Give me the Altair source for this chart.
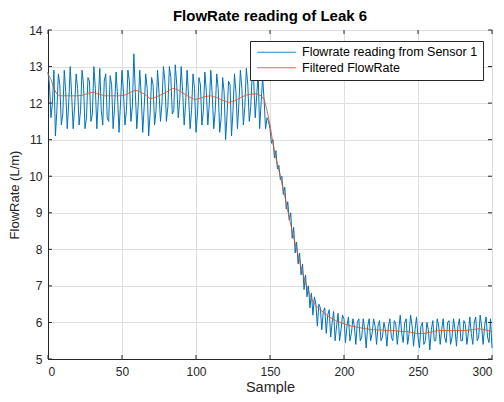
import altair as alt
import pandas as pd

# ---- data ----
raw_values = [
    12.85, 12.5, 11.6, 12.0, 12.9, 11.1, 11.8, 12.8, 12.5, 11.4,
    11.7, 12.9, 12.3, 11.3, 12.0, 13.0, 12.2, 11.3, 11.9, 12.8,
    12.4, 11.4, 11.8, 12.9, 12.5, 11.3, 11.6, 12.7, 12.6, 11.5,
    11.7, 13.0, 12.4, 11.3, 12.1, 12.95, 11.8, 11.4, 12.6, 12.8,
    11.6, 11.5, 12.75, 12.5, 11.3, 11.9, 12.85, 12.2, 11.2, 12.0,
    12.9, 12.3, 11.4, 11.8, 12.9, 12.6, 11.5, 11.9, 13.35, 12.3,
    11.3, 12.0, 12.9, 12.2, 11.2, 11.9, 12.8, 12.4, 11.1, 11.7,
    12.7, 12.5, 11.4, 11.8, 12.9, 12.3, 11.5, 12.0, 13.0, 12.6,
    11.5, 11.9, 13.0, 12.7, 11.7, 11.8, 13.05, 12.5, 11.6, 12.1,
    13.0, 12.3, 11.4, 12.0, 12.9, 12.2, 11.3, 11.8, 12.8, 12.4,
    11.2, 11.7, 12.7, 12.5, 11.4, 11.8, 12.85, 12.3, 11.4, 12.0,
    12.9, 12.2, 11.3, 11.8, 12.8, 12.4, 11.2, 11.6, 12.7, 12.3,
    11.0, 11.7, 12.6, 12.5, 11.1, 11.8, 12.8, 12.3, 11.3, 12.0,
    12.9, 12.4, 11.4, 11.9, 12.95, 12.5, 11.5, 11.9, 12.8, 12.6,
    11.6, 12.2, 12.8, 11.3, 12.0, 12.7, 12.1, 11.3, 11.6, 11.5,
    11.3, 10.9, 11.0, 10.5, 10.7, 10.2, 10.3, 9.9, 10.0, 9.5,
    9.7, 9.1, 9.3, 8.8, 9.0, 8.3, 8.6, 7.9, 8.2, 7.6,
    7.9, 7.3, 7.6, 6.9, 7.3, 6.7, 7.0, 6.4, 6.8, 6.2,
    6.7, 6.5, 5.9, 6.5, 6.4, 5.8, 6.3, 6.4, 5.7, 6.2,
    6.35, 5.6, 6.0, 6.3, 5.5, 5.9, 6.25, 5.5, 5.8, 6.2,
    6.1, 5.45, 5.9, 6.15, 5.5, 5.7, 6.1, 5.9, 5.4, 6.0,
    6.1, 5.5, 5.6, 6.1, 5.8, 5.3, 5.9, 6.1, 5.5, 5.7,
    6.1, 5.9, 5.4, 5.9, 6.05, 5.5, 5.6, 6.0, 5.8, 5.35,
    5.9, 6.1, 5.6, 5.5, 6.05, 5.95, 5.4, 5.8, 6.2, 5.7,
    5.45, 6.0, 6.1, 5.4, 5.7, 6.2, 5.9, 5.35, 5.8, 6.15,
    5.6, 5.3, 5.9, 6.0, 5.4, 5.5, 6.0, 5.8, 5.25, 5.8,
    6.05, 5.5, 5.5, 6.1, 5.9, 5.4, 5.8, 6.1, 5.6, 5.45,
    6.0, 6.05, 5.4, 5.6, 6.1, 5.8, 5.35, 5.9, 6.1, 5.5,
    5.5, 6.05, 5.95, 5.4, 5.7, 6.15, 5.7, 5.4, 6.0, 6.15,
    5.5, 5.6, 6.2, 5.9, 5.4, 5.9, 6.15, 5.6, 5.45, 6.1,
    5.3,
]

filt_x = [0, 2, 4, 6, 8, 12, 16, 20, 24, 28, 31, 34, 38, 43, 48, 52, 56, 59,
          62, 65, 69, 72, 76, 80, 84, 87, 91, 95, 99, 102, 106, 110, 114, 118,
          122, 126, 130, 134, 138, 141, 144, 146, 148, 150, 152, 154, 157, 160,
          162, 165, 168, 171, 174, 177, 180, 183, 186, 190, 195, 200, 205, 210,
          214, 220, 226, 232, 238, 244, 250, 254, 258, 264, 270, 276, 282, 287,
          291, 295, 300]
filt_y = [12.8, 12.65, 12.4, 12.25, 12.2, 12.2, 12.2, 12.2, 12.22, 12.28, 12.3,
          12.25, 12.2, 12.2, 12.2, 12.22, 12.3, 12.35, 12.32, 12.25, 12.12,
          12.15, 12.22, 12.3, 12.4, 12.38, 12.28, 12.18, 12.1, 12.12, 12.18,
          12.2, 12.15, 12.08, 12.02, 12.06, 12.15, 12.22, 12.25, 12.25, 12.2,
          12.1, 11.8, 11.4, 10.9, 10.5, 10.0, 9.45, 9.05, 8.5, 8.0, 7.5, 7.1,
          6.75, 6.5, 6.38, 6.28, 6.15, 6.04, 5.96, 5.9, 5.86, 5.83, 5.8, 5.79,
          5.78, 5.76, 5.74, 5.69, 5.7, 5.73, 5.78, 5.78, 5.78, 5.78, 5.8, 5.83,
          5.8, 5.75]

x_ticks = [0, 50, 100, 150, 200, 250, 300]
y_ticks = [5, 6, 7, 8, 9, 10, 11, 12, 13, 14]
SERIES = ["Flowrate reading from Sensor 1", "Filtered FlowRate"]
COLORS = ["#0072BD", "#D95319"]

raw_df = pd.DataFrame({"Sample": list(range(len(raw_values))),
                       "FlowRate": raw_values, "series": SERIES[0]})
filt_df = pd.DataFrame({"Sample": filt_x, "FlowRate": filt_y, "series": SERIES[1]})

W, H = 444, 329
FONT = "Liberation Sans"
AX = "#262626"

xscale = alt.Scale(domain=[0, 300], nice=False, zero=False)
yscale = alt.Scale(domain=[5, 14], nice=False, zero=False)

xaxis = alt.Axis(values=x_ticks, ticks=False, grid=True, labelPadding=7,
                 titlePadding=3, format="d", titleFontSize=14.5)
yaxis = alt.Axis(values=y_ticks, ticks=False, grid=True, labelPadding=6,
                 titlePadding=7, format="d", titleFontSize=13)

color = alt.Color(
    "series:N",
    scale=alt.Scale(domain=SERIES, range=COLORS),
    legend=alt.Legend(title=None, orient="none", legendX=202, legendY=11,
                      labelLimit=400),
)

X = alt.X("Sample:Q", scale=xscale, axis=xaxis, title="Sample")
Y = alt.Y("FlowRate:Q", scale=yscale, axis=yaxis, title="FlowRate (L/m)")

raw_layer = alt.Chart(raw_df).mark_line(strokeWidth=1).encode(x=X, y=Y, color=color)
filt_layer = alt.Chart(filt_df).mark_line(strokeWidth=1, opacity=0.85).encode(
    x=X, y=Y, color=color)

xt = pd.DataFrame({"Sample": x_ticks})
yt = pd.DataFrame({"FlowRate": y_ticks})
tick_style = dict(color=AX, strokeWidth=1)
xt_bot = alt.Chart(xt).mark_rule(**tick_style).encode(
    x=X, y=alt.value(H), y2=alt.value(H - 4))
xt_top = alt.Chart(xt).mark_rule(**tick_style).encode(
    x=X, y=alt.value(0), y2=alt.value(4))
yt_left = alt.Chart(yt).mark_rule(**tick_style).encode(
    y=Y, x=alt.value(0), x2=alt.value(4))
yt_right = alt.Chart(yt).mark_rule(**tick_style).encode(
    y=Y, x=alt.value(W), x2=alt.value(W - 4))

chart = (
    alt.layer(raw_layer, filt_layer, xt_bot, xt_top, yt_left, yt_right)
    .properties(
        width=W, height=H, padding={"left": 0, "right": 0, "top": 1, "bottom": 0},
        title=alt.TitleParams("FlowRate reading of Leak 6", fontSize=15,
                              fontWeight="bold", font=FONT, color="#000000",
                              anchor="middle", offset=0),
    )
    .configure_view(stroke=AX, strokeWidth=1)
    .configure_axis(
        labelFont=FONT, titleFont=FONT, labelFontSize=12,
        labelColor=AX, titleColor=AX, titleFontWeight="normal",
        domainColor=AX, gridColor="#dfdfdf", gridWidth=1,
    )
    .configure_legend(
        symbolType="M-4,0H35", symbolSize=4, symbolStrokeWidth=1,
        labelFont=FONT, labelFontSize=12.5, labelColor="#000000",
        labelOffset=34.5, padding=5, rowPadding=2.5,
        strokeColor=AX, fillColor="white",
    )
)

chart.save("out.html", embed_options={"renderer": "svg", "actions": False})
